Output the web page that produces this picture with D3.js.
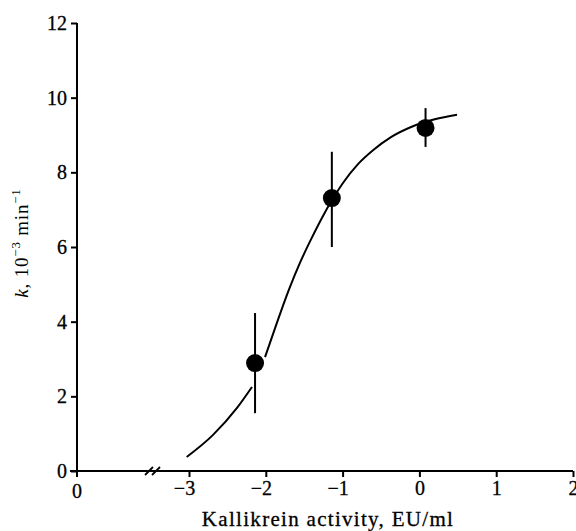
<!DOCTYPE html>
<html>
<head>
<meta charset="utf-8">
<script src="https://cdn.jsdelivr.net/npm/d3@7"></script>
<style>
  body { margin: 0; background: #fff; }
  svg, svg text { font-family: "Liberation Serif", "DejaVu Serif", serif; }
</style>
</head>
<body>
<svg id="chart" width="576" height="531"></svg>
<script>
// data (log kallikrein activity vs k)
const pointX = [-2.14, -1.14, 0.08];
const pointY = [2.89, 7.31, 9.19];
const errLow = [1.55, 6.0, 8.68];
const errHigh = [4.23, 8.55, 9.72];

// fitted curve, traced in two pieces (it breaks beside the first point)
const curveLowX = [-3.03, -2.69, -2.375, -2.18];
const curveLowY = [0.375, 0.96, 1.69, 2.25];
const curveHighX = [-2.01, -1.85, -1.70, -1.55, -1.40, -1.25, -1.14, -1.00, -0.80, -0.60, -0.38, -0.10, 0.20, 0.49];
const curveHighY = [3.05, 4.0, 4.85, 5.6, 6.25, 6.85, 7.25, 7.7, 8.22, 8.6, 8.93, 9.22, 9.42, 9.54];

const xTicks = [-3, -2, -1, 0, 1, 2];
const yTicks = [0, 2, 4, 6, 8, 10, 12];

let svg = d3.select("#chart");
let x0 = 77; // axis origin (x axis is broken between 0 and -3)

let xScale = d3.scaleLinear().domain([-3, 2]).range([189, 573]);
let yScale = d3.scaleLinear().domain([0, 12]).range([471, 23]);

// y axis
let yAxis = svg.append("g")
  .attr("transform", "translate(" + x0 + ",0)")
  .call(d3.axisLeft(yScale).tickValues(yTicks).tickSize(6).tickPadding(4).tickFormat(d3.format("d")));
yAxis.select(".domain").attr("d", "M0," + yScale(12) + "V" + (yScale(0) + 6));

// x axis
let xAxis = svg.append("g")
  .attr("transform", "translate(0," + yScale(0) + ")")
  .call(d3.axisBottom(xScale).tickValues(xTicks).tickSize(6).tickPadding(4)
    .tickFormat(d => d < 0 ? "\u2212" + Math.abs(d) : d));
xAxis.select(".domain").attr("d", "M" + (x0 - 7) + ",0H" + xScale(2));

// origin "0" label on x
xAxis.append("text")
  .attr("x", x0).attr("y", 27)
  .attr("text-anchor", "middle")
  .attr("fill", "#000")
  .text("0");

// axis break marks
[0, 7].forEach(function(dx) {
  xAxis.append("line")
    .attr("x1", 145 + dx).attr("y1", 4)
    .attr("x2", 153 + dx).attr("y2", -4)
    .attr("stroke", "#000").attr("stroke-width", 1.8);
});

svg.selectAll("g").attr("font-family", null).attr("font-size", null);
svg.selectAll(".domain, .tick line").attr("stroke", "#000").attr("stroke-width", 2);
svg.selectAll("g text").attr("fill", "#000").style("font-size", "20px")
  .attr("stroke", "#000").attr("stroke-width", 0.3);
// minus labels: shift so the digit sits near the tick
xAxis.selectAll(".tick text").attr("dx", d => d < 0 ? "-0.25em" : 0);

// curve
let line = d3.line()
  .x(d => xScale(d[0]))
  .y(d => yScale(d[1]))
  .curve(d3.curveMonotoneX);

svg.append("path")
  .datum(d3.zip(curveLowX, curveLowY))
  .attr("d", line)
  .attr("fill", "none").attr("stroke", "#000").attr("stroke-width", 2);
svg.append("path")
  .datum(d3.zip(curveHighX, curveHighY))
  .attr("d", line)
  .attr("fill", "none").attr("stroke", "#000").attr("stroke-width", 2);

// error bars
svg.selectAll(".err")
  .data(d3.range(pointX.length))
  .enter()
  .append("line")
  .attr("x1", i => xScale(pointX[i]))
  .attr("x2", i => xScale(pointX[i]))
  .attr("y1", i => yScale(errLow[i]))
  .attr("y2", i => yScale(errHigh[i]))
  .attr("stroke", "#000").attr("stroke-width", 2);

// points
svg.selectAll(".pt")
  .data(d3.range(pointX.length))
  .enter()
  .append("circle")
  .attr("cx", i => xScale(pointX[i]))
  .attr("cy", i => yScale(pointY[i]))
  .attr("r", 9)
  .attr("fill", "#000");

// axis titles
svg.append("text")
  .attr("x", 328).attr("y", 526)
  .attr("text-anchor", "middle")
  .style("font-size", "21px")
  .style("letter-spacing", "1.3px")
  .attr("stroke", "#000").attr("stroke-width", 0.3)
  .text("Kallikrein activity, EU/ml");

let yl = svg.append("text")
  .attr("transform", "translate(28,243) rotate(-90)")
  .attr("text-anchor", "middle")
  .style("font-size", "19px")
  .style("letter-spacing", "0.8px");
yl.append("tspan").style("font-style", "italic").text("k");
yl.append("tspan").text(", 10");
yl.append("tspan").attr("dy", -8).style("font-size", "13px").text("\u22123");
yl.append("tspan").attr("dy", 8).text(" min");
yl.append("tspan").attr("dy", -8).style("font-size", "13px").text("\u22121");
</script>
</body>
</html>
